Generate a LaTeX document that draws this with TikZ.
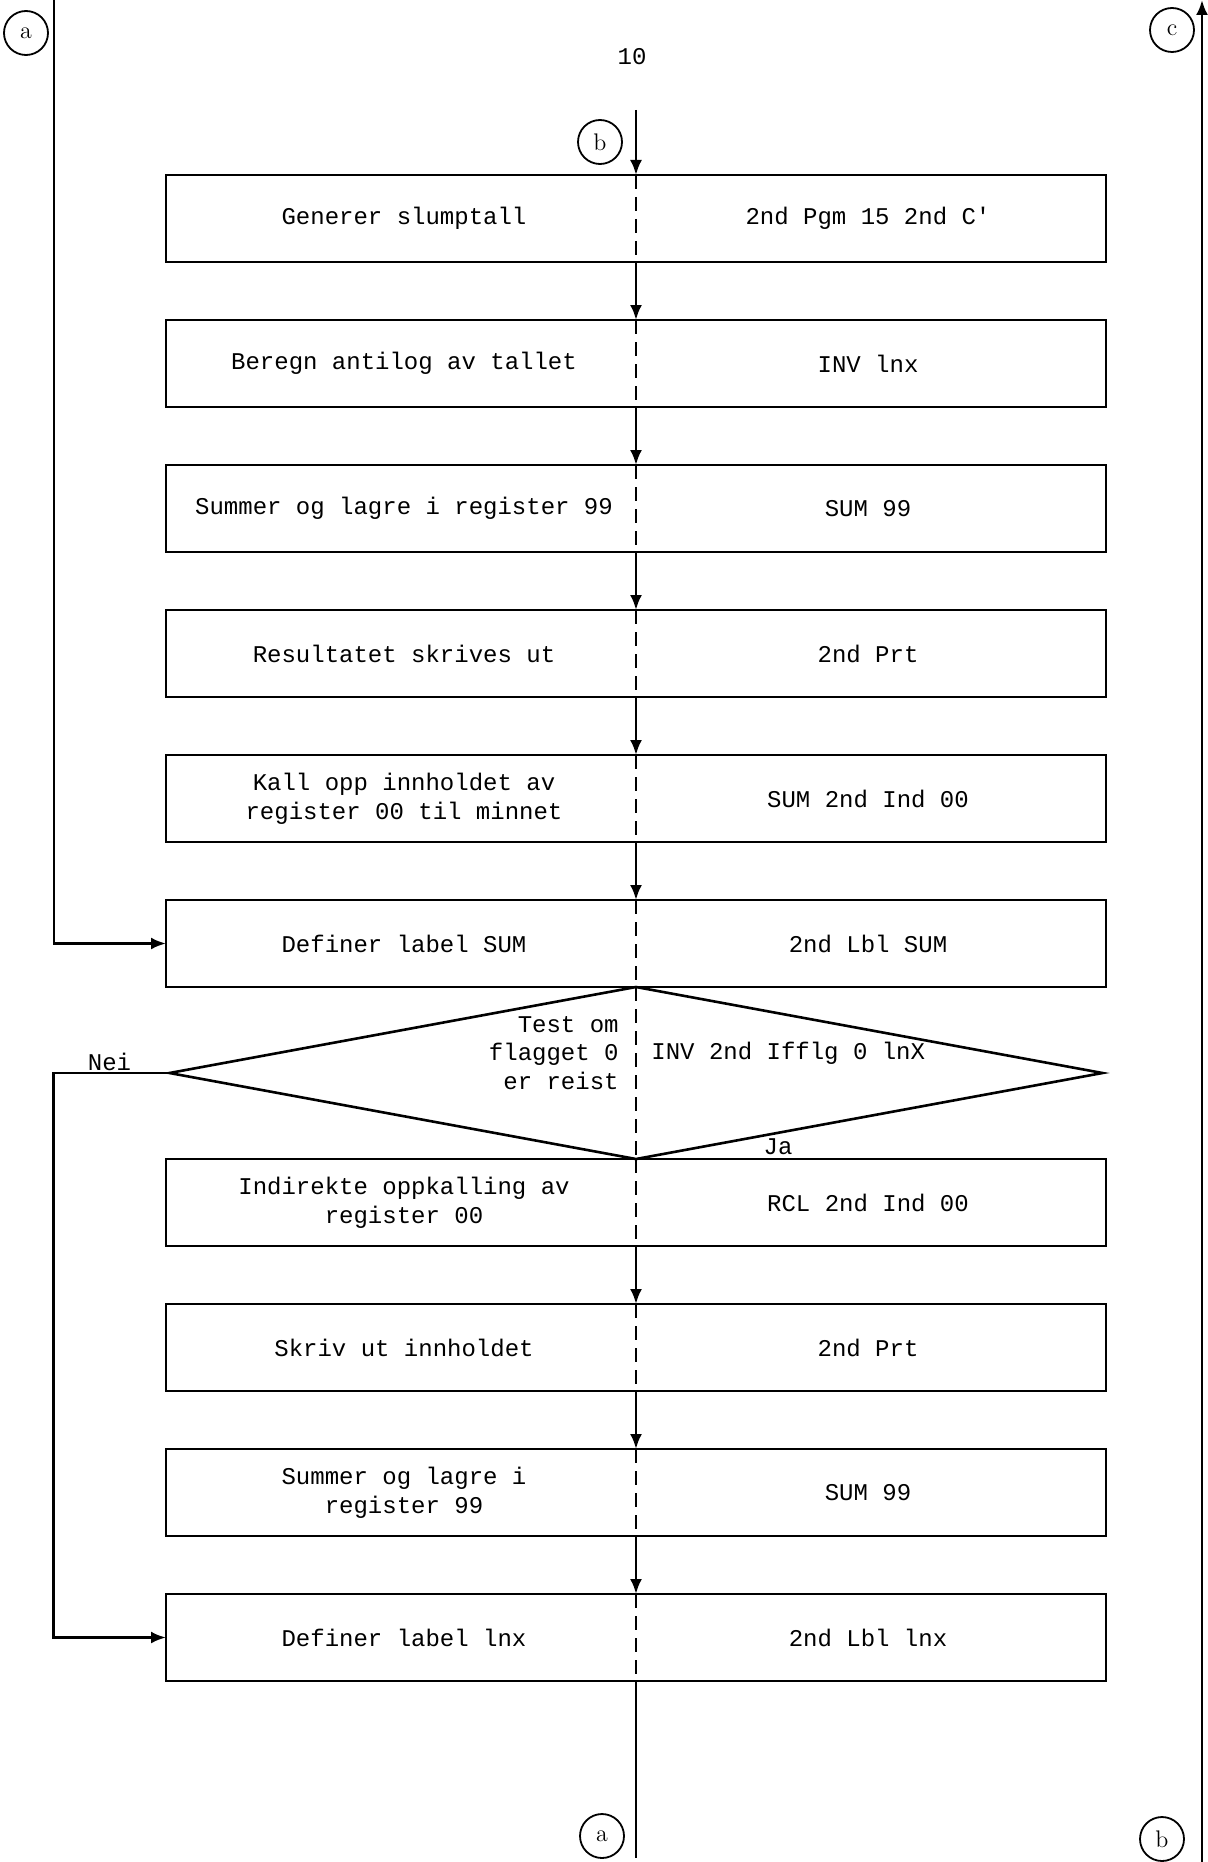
\documentclass[tikz,border=0pt]{standalone}
\usepackage{fontspec}
\setmonofont{Liberation Mono}
\usetikzlibrary{arrows.meta,positioning,shapes.geometric}

\begin{document}
\begin{tikzpicture}[x=0.5pt,y=-0.5pt,>={Latex[length=7.5pt,width=6pt]},
  box/.style={draw,line width=1.3pt,minimum width=470pt,minimum height=43.5pt,inner sep=0pt,outer sep=0pt},
  dia/.style={diamond,draw,line width=1.3pt,minimum width=466.5pt,minimum height=86pt,aspect=5.4,inner sep=0pt,outer sep=0pt},
  lbl/.style={font=\ttfamily\fontsize{12}{14.3}\selectfont,align=center,inner sep=0pt},
  sep/.style={line width=1pt,dash pattern=on 7pt off 4pt},
  flow/.style={->,line width=1.3pt},
  conn/.style={circle,draw,line width=0.9pt,minimum size=22pt,inner sep=0pt,font=\large}]
  \useasboundingbox (0,0) rectangle (1208,1862);
  % page number and off-page connectors
  \node[lbl] (page) at (632,57) {10};
  \node[conn] (ca) at (26,33) {a};
  \node[conn] (cc) at (1172,30) {c};
  \node[conn] (cb) at (600,142) {b};
  \node[conn] (ca2) at (602,1836) {a};
  \node[conn] (cb2) at (1162,1839) {b};
  \coordinate (btop) at (636,110);
  \coordinate (abot) at (636,1858);
  \coordinate (atop) at (54,0);
  \coordinate (cbot) at (1202,1862);
  \coordinate (ctop) at (1202,0);
  % steps
  \node[box] (r1) at (636,218.5) {};
  \node[box,below=29pt of r1] (r2) {};
  \node[box,below=29pt of r2] (r3) {};
  \node[box,below=29pt of r3] (r4) {};
  \node[box,below=29pt of r4] (r5) {};
  \node[box,below=29pt of r5] (r6) {};
  \node[dia,below=0pt of r6] (d) {};
  \node[box,below=0pt of d] (r7) {};
  \node[box,below=29pt of r7] (r8) {};
  \node[box,below=29pt of r8] (r9) {};
  \node[box,below=29pt of r9] (r10) {};
  % texts
  \node[lbl] (t1) at ([xshift=-116pt]r1.center) {Generer slumptall};
  \node[lbl] (k1) at ([xshift=116pt]r1.center) {2nd Pgm 15 2nd C'};
  \node[lbl] (t2) at ([xshift=-116pt]r2.center) {Beregn antilog av tallet};
  \node[lbl] (k2) at ([xshift=116pt]r2.center) {INV lnx};
  \node[lbl] (t3) at ([xshift=-116pt]r3.center) {Summer og lagre i register 99};
  \node[lbl] (k3) at ([xshift=116pt]r3.center) {SUM 99};
  \node[lbl] (t4) at ([xshift=-116pt]r4.center) {Resultatet skrives ut};
  \node[lbl] (k4) at ([xshift=116pt]r4.center) {2nd Prt};
  \node[lbl] (t5) at ([xshift=-116pt]r5.center) {Kall opp innholdet av\\register 00 til minnet};
  \node[lbl] (k5) at ([xshift=116pt]r5.center) {SUM 2nd Ind 00};
  \node[lbl] (t6) at ([xshift=-116pt]r6.center) {Definer label SUM};
  \node[lbl] (k6) at ([xshift=116pt]r6.center) {2nd Lbl SUM};
  \node[lbl,align=right,anchor=east] (td) at ([xshift=-8.5pt,yshift=10pt]d.center) {Test om\\flagget 0\\er reist};
  \node[lbl,anchor=west] (kd) at ([xshift=7.5pt,yshift=10pt]d.center) {INV 2nd Ifflg 0 lnX};
  \node[lbl] (ja) at ([xshift=71pt,yshift=-37pt]d.center) {Ja};
  \node[lbl,anchor=base] (nei) at ([xshift=-30pt,yshift=1.5pt]d.west) {Nei};
  \node[lbl] (t7) at ([xshift=-116pt]r7.center) {Indirekte oppkalling av\\register 00};
  \node[lbl] (k7) at ([xshift=116pt]r7.center) {RCL 2nd Ind 00};
  \node[lbl] (t8) at ([xshift=-116pt]r8.center) {Skriv ut innholdet};
  \node[lbl] (k8) at ([xshift=116pt]r8.center) {2nd Prt};
  \node[lbl] (t9) at ([xshift=-116pt]r9.center) {Summer og lagre i\\register 99};
  \node[lbl] (k9) at ([xshift=116pt]r9.center) {SUM 99};
  \node[lbl] (t10) at ([xshift=-116pt]r10.center) {Definer label lnx};
  \node[lbl] (k10) at ([xshift=116pt]r10.center) {2nd Lbl lnx};
  % dashed split of each step
  \draw[sep] (r1.north) -- (r1.south);
  \draw[sep] (r2.north) -- (r2.south);
  \draw[sep] (r3.north) -- (r3.south);
  \draw[sep] (r4.north) -- (r4.south);
  \draw[sep] (r5.north) -- (r5.south);
  \draw[sep] (r6.north) -- (r6.south);
  \draw[sep] (d.north) -- (d.south);
  \draw[sep] (r7.north) -- (r7.south);
  \draw[sep] (r8.north) -- (r8.south);
  \draw[sep] (r9.north) -- (r9.south);
  \draw[sep] (r10.north) -- (r10.south);
  % flow
  \draw[flow] (btop) -- (r1.north);
  \draw[flow] (r1.south) -- (r2.north);
  \draw[flow] (r2.south) -- (r3.north);
  \draw[flow] (r3.south) -- (r4.north);
  \draw[flow] (r4.south) -- (r5.north);
  \draw[flow] (r5.south) -- (r6.north);
  \draw[flow] (r7.south) -- (r8.north);
  \draw[flow] (r8.south) -- (r9.north);
  \draw[flow] (r9.south) -- (r10.north);
  \draw[line width=1.3pt] (r10.south) -- (abot);
  \draw[flow] (atop) |- (r6.west);
  \draw[flow] (d.west) -- ++(-58pt,0) |- (r10.west);
  \draw[flow] (cbot) -- (ctop);
\end{tikzpicture}
\end{document}
